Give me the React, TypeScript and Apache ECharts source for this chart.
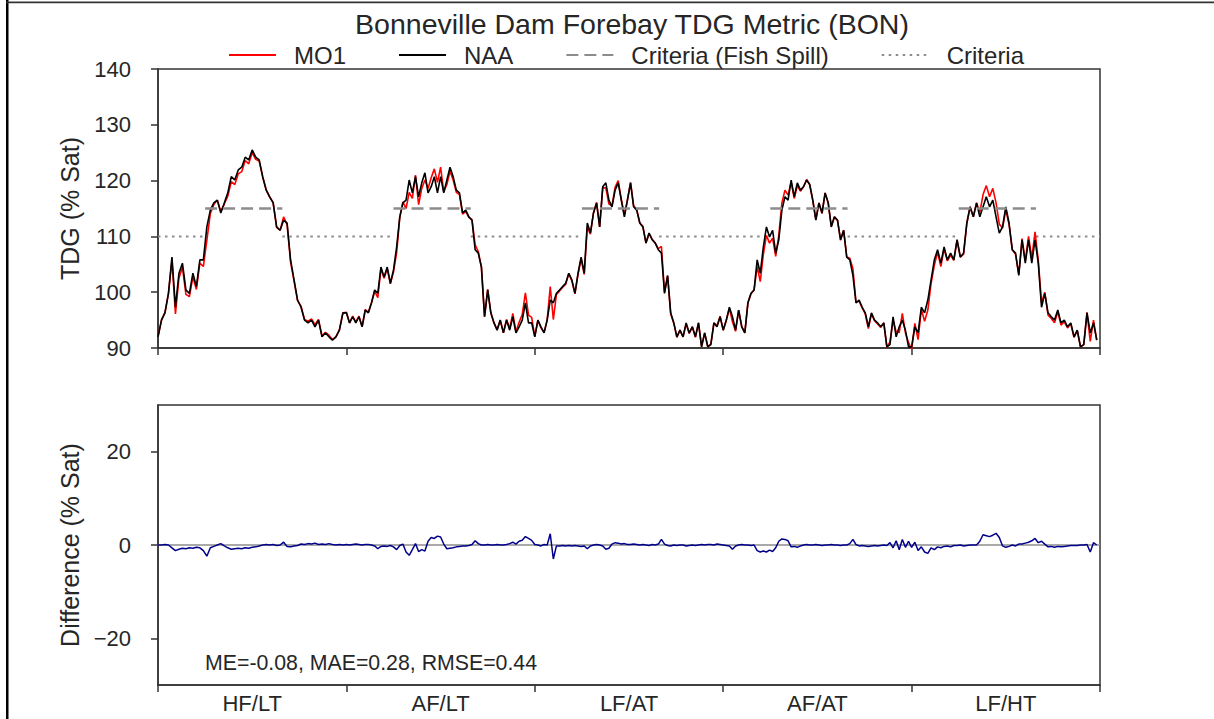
import React, { useEffect, useRef } from "react";
import * as echarts from "echarts";

// ---- Data ----
const categories = ["HF/LT", "AF/LT", "LF/AT", "AF/AT", "LF/HT"];

const naaHFLT = [92, 95, 96.3, 99.8, 106.3, 97.3, 103.4, 105.2, 100.4, 99.8, 103.4, 101, 105.8, 105.8, 111.7, 114.7, 116, 116.5, 114.2, 116, 117.8, 120.7, 120.1, 121.9, 122.4, 124.2, 123.7, 125.5, 124.2, 123.7, 120.7, 118.3, 117.1, 116, 111.7, 111.1, 112.9, 112.4, 105.8, 102.2, 98.6, 97.3, 95, 94.5, 95, 93.8, 95, 92, 92.7, 92, 91.4, 92, 93.2, 96.3];
const naaAFLT = [96.3, 94.5, 95.6, 94.5, 95.6, 93.8, 96.8, 96.3, 98.1, 100.4, 99.8, 104.5, 102.7, 104.5, 101.6, 104, 108.1, 113.5, 116, 116.5, 120.1, 117.8, 120.7, 117.1, 119.6, 121.4, 117.8, 118.9, 120.7, 117.8, 120.7, 117.8, 120.1, 122.4, 120.7, 118.3, 117.8, 114.2, 114.7, 113.5, 112.9, 107.6, 107, 104.5, 95.6, 100.4, 96.3, 94.5, 93.2, 95, 92.7, 95, 93.2, 95.6, 92.7, 93.8, 95, 98.1, 94.5, 94.5];
const naaLFAT = [92, 95, 93.8, 92.7, 95, 98.6, 98.1, 99.8, 100.4, 101, 101.6, 103.4, 102.2, 99.8, 103.4, 106.3, 103.4, 112.4, 110.6, 114.2, 116, 111.7, 118.9, 119.6, 116.5, 115.3, 118.3, 119.6, 116.5, 113.5, 116.5, 119.6, 115.3, 114.7, 112.4, 111.7, 108.8, 110.6, 109.4, 108.8, 107.6, 107, 99.8, 103, 96.3, 94.5, 92, 93.2, 92, 94.5, 92.7, 93.8, 92, 94.5, 90.2, 92.7, 90.2, 90.6, 94.5, 93.8, 95.6];
const naaAFAT = [93.2, 95, 97.3, 95.6, 93.2, 96.8, 93.8, 92.7, 98.1, 99.8, 100.4, 105.8, 103.4, 108.1, 111.7, 109.9, 111.1, 107, 109.4, 114.7, 117.1, 116.5, 120.1, 117.1, 119.6, 118.3, 118.9, 120.1, 119.3, 116.5, 112.9, 116, 114.2, 117.8, 116, 111.7, 113.5, 112.9, 109.4, 111.1, 106.3, 105.8, 103, 98.1, 98.6, 97.3, 96.3, 93.8, 96.3, 95, 94.5, 93.8, 94.5, 90.2, 90.6, 95.6, 92, 93.8, 95, 93.2, 90.2];
const naaLFHT = [90.2, 93.8, 92.7, 97.3, 96.3, 98.6, 102.2, 105.8, 107.6, 105.2, 108.1, 105.8, 107, 105.8, 109.4, 106.3, 107, 112.4, 115.3, 113.5, 116, 113.5, 115.3, 117.1, 115.3, 116.5, 113.5, 110.6, 111.7, 115.3, 112.4, 107.6, 107, 103, 109.4, 105.2, 109.4, 105.2, 109.4, 105.2, 97.3, 99.8, 96.3, 95.6, 95, 96.8, 94.5, 95, 93.8, 94.5, 92, 93.2, 90.2, 90.6, 96.3, 92.7, 94.5, 91.4];

// Difference MO1 - NAA (% Sat)
const diffHFLT = [0, 0, 0.1, 0, -0.6, -1.2, -0.9, -0.7, -0.8, -0.6, -0.7, -0.5, -0.6, -1.2, -2.4, -0.6, -0.3, 0, 0.3, -0.2, -0.6, -0.9, -0.8, -0.7, -0.8, -0.6, -0.7, -0.5, -0.4, -0.2, 0, 0.1, 0, 0.1, -0.1, 0, 0.6, -0.3, -0.4, -0.2, -0.1, 0.2, 0.1, 0.3, 0.2, 0.4, 0.1, 0.2, 0.1, 0.3, 0.1, 0, 0.1, 0];
const diffAFLT = [0.1, 0, 0.1, 0.2, 0.1, 0, 0.1, 0.1, 0, -0.2, -0.8, -0.3, -0.2, -0.3, -0.1, -0.4, -1.0, -0.1, 0.2, -1.5, -2.2, -1.0, 0.3, -1.4, -1.0, -1.3, 0.8, 1.6, 1.4, 1.9, 1.7, 0.2, -0.8, -0.7, -0.6, -0.4, -0.3, -0.2, -0.2, -0.1, 0.1, 0.9, 0.3, 0, 0, 0.1, 0, 0, 0.1, 0, 0, 0.1, 0.3, 0.6, 0.2, 0.8, 1.0, 1.8, 1.4, 1.0];
const diffLFAT = [0.1, 0, -0.2, 0.1, 0, 2.4, -3.0, -0.2, -0.2, -0.1, -0.2, -0.1, -0.2, -0.1, -0.2, -0.3, -0.2, -0.8, -0.2, 0, 0.1, 0, -0.2, -0.9, -0.7, 0.2, 0.5, 0.4, 0.2, 0.3, 0.1, 0.1, 0.2, 0.1, 0, 0.1, 0, -0.1, 0.1, 0, 0.2, 1.2, 0.2, -0.1, -0.2, 0, -0.1, 0, 0, -0.2, -0.1, 0, -0.1, 0, 0.1, 0, 0.1, 0.1, 0, 0.2, 0.1];
const diffAFAT = [0, -0.1, -0.2, -0.9, -0.2, 0, 0.1, 0, 0, -0.1, 0, -1.2, -1.5, -1.3, -1.5, -1.1, -1.4, -0.6, 0.8, 1.3, 1.2, 0.9, -0.4, -0.3, -0.5, -0.2, 0, 0.1, 0, 0, 0.1, 0, -0.1, 0, 0, 0.1, 0, 0, -0.1, 0, 0, 0.3, 1.2, 0.1, -0.2, -0.1, -0.2, -0.3, -0.2, -0.1, -0.2, -0.1, 0, -0.1, 0.5, -0.6, 0.9, -1.0, 1.2, -0.5, 0.8];
const diffLFHT = [-0.5, 0.6, -1.2, -0.4, -1.5, -1.8, -0.6, -1.0, -0.4, -0.6, -0.3, -0.2, -0.4, -0.1, -0.1, 0, -0.2, -0.1, 0, 0, 0, 0.8, 2.2, 2.0, 1.8, 2.1, 2.5, 1.6, -0.2, -0.5, -0.3, 0, -0.2, 0.2, 0.2, 0.4, 0.6, 0.9, 1.4, 0.5, 0.8, 0.2, -0.4, -0.3, -0.5, -0.3, -0.4, -0.3, -0.2, -0.1, -0.1, -0.1, 0, 0, 0.1, -1.5, 0.5, 0];

const fishSpillCriteria = 115;
const generalCriteria = 110;
const fishSpillWindow = [0.25, 0.66]; // fraction of each year
const statsText = "ME=-0.08, MAE=0.28, RMSE=0.44";

const naaSegments = [naaHFLT, naaAFLT, naaLFAT, naaAFAT, naaLFHT];
const diffSegments = [diffHFLT, diffAFLT, diffLFAT, diffAFAT, diffLFHT];

const FONT = "Arial, 'Liberation Sans', sans-serif";
const TXT = "#262626";

function buildOption() {
  const naaData: any[] = [];
  const mo1Data: any[] = [];
  const diffData: any[] = [];
  naaSegments.forEach((seg, k) => {
    const d = diffSegments[k];
    seg.forEach((v, i) => {
      const x = k + i / seg.length;
      naaData.push([x, v]);
      mo1Data.push([x, +(v + (d[i] || 0)).toFixed(2)]);
      diffData.push([x, d[i] || 0]);
    });
  });
  const nYears = categories.length;
  const fishData: any[] = [];
  const critData: any[] = [];
  for (let k = 0; k < nYears; k++) {
    fishData.push([k + fishSpillWindow[0], fishSpillCriteria]);
    fishData.push([k + fishSpillWindow[1], fishSpillCriteria]);
    fishData.push([k + fishSpillWindow[1], "-"]);
  }
  critData.push([0, generalCriteria]);
  for (let k = 0; k < nYears; k++) {
    critData.push([k + fishSpillWindow[0], generalCriteria]);
    critData.push([k + fishSpillWindow[0], "-"]);
    critData.push([k + fishSpillWindow[1], generalCriteria]);
  }
  critData.push([nYears, generalCriteria]);

  const axisLine = { show: true, lineStyle: { color: "#333", width: 1.5 } };
  const tick = { show: true, inside: false, length: 7, lineStyle: { color: "#333", width: 1.5 } };

  return {
    animation: false,
    backgroundColor: "#fff",
    textStyle: { fontFamily: FONT },
    title: {
      text: "Bonneville Dam Forebay TDG Metric (BON)",
      left: 632,
      textAlign: "center",
      top: 9,
      padding: 0,
      textStyle: { fontFamily: FONT, fontSize: 28.5, lineHeight: 30, fontWeight: "normal", color: TXT },
    },
    legend: {
      top: 43,
      left: 228,
      padding: 0,
      itemWidth: 47,
      itemHeight: 20,
      itemGap: 52,
      itemStyle: { opacity: 0 },
      textStyle: { fontFamily: FONT, fontSize: 24, lineHeight: 24, color: TXT, padding: [0, 0, 0, 13] },
      data: ["MO1", "NAA", "Criteria (Fish Spill)", "Criteria"],
    },
    graphic: [
      { type: "rect", left: 6, top: 0, shape: { width: 2.5, height: 719 }, style: { fill: "#000" }, z: 100 },
      { type: "rect", left: 6, top: 1.5, shape: { width: 1208, height: 1.8 }, style: { fill: "#333" }, z: 100 },
      {
        type: "text",
        left: 205,
        top: 652,
        style: { text: statsText, fontFamily: FONT, fontSize: 21.3, fill: TXT },
        z: 100,
      },
    ],
    grid: [
      { left: 158, top: 69, width: 942, height: 279, show: true, borderColor: "#333", borderWidth: 1.5, backgroundColor: "transparent" },
      { left: 158, top: 405, width: 942, height: 280, show: true, borderColor: "#333", borderWidth: 1.5, backgroundColor: "transparent" },
    ],
    xAxis: [
      { type: "value", gridIndex: 0, min: 0, max: nYears, show: false },
      {
        type: "category",
        gridIndex: 0,
        position: "bottom",
        data: categories,
        boundaryGap: true,
        axisLine,
        axisTick: tick,
        axisLabel: { show: false },
        splitLine: { show: false },
      },
      { type: "value", gridIndex: 1, min: 0, max: nYears, show: false },
      {
        type: "category",
        gridIndex: 1,
        position: "bottom",
        data: categories,
        boundaryGap: true,
        axisLine,
        axisTick: tick,
        axisLabel: { show: true, fontFamily: FONT, fontSize: 22, color: TXT, margin: 7 },
        splitLine: { show: false },
      },
    ],
    yAxis: [
      {
        type: "value",
        gridIndex: 0,
        min: 90,
        max: 140,
        interval: 10,
        axisLine,
        axisTick: tick,
        splitLine: { show: false },
        axisLabel: { fontFamily: FONT, fontSize: 22, color: TXT, margin: 27 },
        name: "TDG (% Sat)",
        nameLocation: "middle",
        nameGap: 76,
        nameTextStyle: { fontFamily: FONT, fontSize: 25, color: TXT },
      },
      {
        type: "value",
        gridIndex: 1,
        min: -30,
        max: 30,
        axisLine,
        axisTick: { ...tick, customValues: [-20, 0, 20] },
        splitLine: { show: false },
        axisLabel: {
          fontFamily: FONT,
          fontSize: 22,
          color: TXT,
          margin: 27,
          customValues: [-20, 0, 20],
          formatter: (v: number) => (v < 0 ? "\u2212" + Math.abs(v) : String(v)),
        },
        name: "Difference (% Sat)",
        nameLocation: "middle",
        nameGap: 76,
        nameTextStyle: { fontFamily: FONT, fontSize: 25, color: TXT },
      },
    ],
    series: [
      {
        name: "MO1",
        type: "line",
        xAxisIndex: 0,
        yAxisIndex: 0,
        data: mo1Data,
        showSymbol: false,
        symbol: "none",
        lineStyle: { color: "#ff0000", width: 1.6 },
        itemStyle: { color: "#ff0000" },
      },
      {
        name: "NAA",
        type: "line",
        xAxisIndex: 0,
        yAxisIndex: 0,
        data: naaData,
        showSymbol: false,
        symbol: "none",
        lineStyle: { color: "#000", width: 1.6 },
        itemStyle: { color: "#000" },
      },
      {
        name: "Criteria (Fish Spill)",
        type: "line",
        xAxisIndex: 0,
        yAxisIndex: 0,
        data: fishData,
        connectNulls: false,
        showSymbol: false,
        symbol: "none",
        lineStyle: { color: "#8c8c8c", width: 2.6, type: [12, 6] },
        itemStyle: { color: "#8c8c8c" },
        z: 3,
      },
      {
        name: "Criteria",
        type: "line",
        xAxisIndex: 0,
        yAxisIndex: 0,
        data: critData,
        connectNulls: false,
        showSymbol: false,
        symbol: "none",
        lineStyle: { color: "#8c8c8c", width: 2, type: [2.5, 4.5] },
        itemStyle: { color: "#8c8c8c" },
        z: 1,
      },
      {
        name: "zero",
        type: "line",
        xAxisIndex: 2,
        yAxisIndex: 1,
        data: [[0, 0], [nYears, 0]],
        showSymbol: false,
        symbol: "none",
        silent: true,
        lineStyle: { color: "#8c8c8c", width: 1.3 },
      },
      {
        name: "Difference",
        type: "line",
        xAxisIndex: 2,
        yAxisIndex: 1,
        data: diffData,
        showSymbol: false,
        symbol: "none",
        lineStyle: { color: "#00008b", width: 1.5 },
        itemStyle: { color: "#00008b" },
      },
    ],
  };
}

export default function App() {
  const ref = useRef<HTMLDivElement>(null);
  useEffect(() => {
    if (!ref.current) return;
    const chart = echarts.init(ref.current, undefined, { renderer: "svg" });
    chart.setOption(buildOption() as any);
    return () => chart.dispose();
  }, []);
  return (
    <div
      ref={ref}
      style={{ position: "fixed", left: 0, top: 0, width: 1214, height: 719, background: "#fff" }}
    />
  );
}
